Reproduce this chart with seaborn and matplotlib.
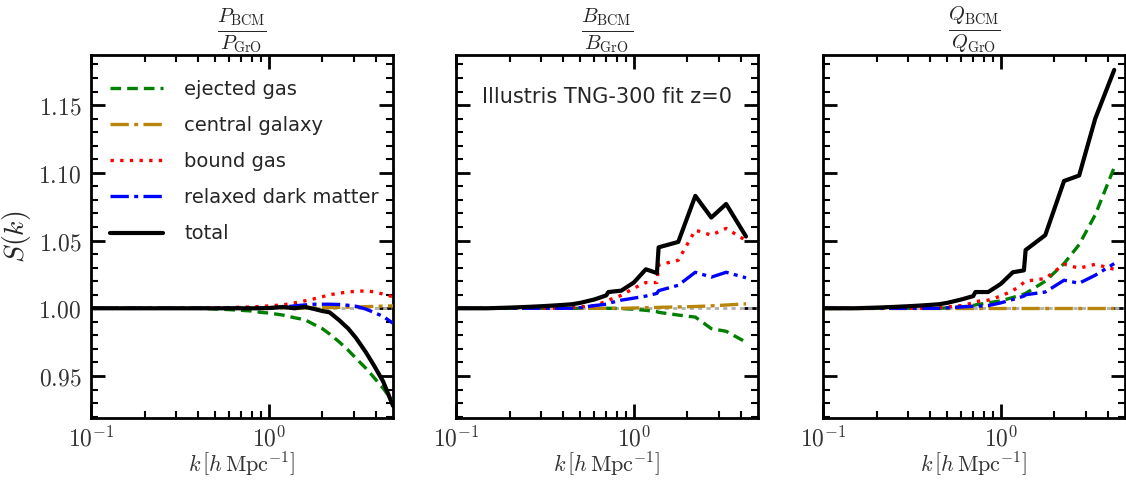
import numpy as np
import pandas as pd
import matplotlib
matplotlib.use("Agg")
import matplotlib.pyplot as plt
import seaborn as sns
from matplotlib.ticker import FixedLocator, FixedFormatter, NullFormatter

# ---------------- data ----------------
components = ["ejected gas", "central galaxy", "bound gas", "relaxed dark matter", "total"]
panel_titles = [r"$\frac{P_{\rm BCM}}{P_{\rm GrO}}$",
                r"$\frac{B_{\rm BCM}}{B_{\rm GrO}}$",
                r"$\frac{Q_{\rm BCM}}{Q_{\rm GrO}}$"]
annotation = "Illustris TNG-300 fit z=0"
ref_level = 1.0

k_P = [0.1, 0.15, 0.2, 0.3, 0.4, 0.5, 0.6, 0.7, 0.8, 0.9, 1.0, 1.2, 1.4, 1.6,
       1.8, 2.0, 2.2, 2.5, 2.8, 3.1, 3.5, 3.9, 4.4, 5.0]
P_ejected = [1.0, 1.0, 1.0, 1.0, 1.0, 0.9995, 0.999, 0.9985, 0.998, 0.997, 0.9965, 0.995,
             0.993, 0.9915, 0.988, 0.985, 0.981, 0.975, 0.969, 0.963, 0.956, 0.949, 0.941, 0.931]
P_central = [1.0, 1.0, 1.0, 1.0, 1.0, 1.0, 1.0, 1.0, 1.0, 1.0, 1.0, 1.0001, 1.0001, 1.0002,
             1.0003, 1.0004, 1.0005, 1.0007, 1.0008, 1.001, 1.0012, 1.0014, 1.0016, 1.0018]
P_bound = [1.0, 1.0, 1.0, 1.0, 1.0, 1.0003, 1.0005, 1.0008, 1.001, 1.0013, 1.0018, 1.0025,
           1.004, 1.0055, 1.007, 1.0085, 1.01, 1.0112, 1.012, 1.0126, 1.0128, 1.0122, 1.0105, 1.0085]
P_relaxed = [1.0, 1.0, 1.0, 1.0, 1.0, 1.0, 1.0, 1.0, 1.0, 1.0, 1.0, 1.0008, 1.0018, 1.0025,
             1.003, 1.003, 1.003, 1.0028, 1.0022, 1.0015, 0.9995, 0.997, 0.994, 0.989]
P_total = [1.0, 1.0, 1.0, 1.0, 1.0, 1.0, 1.0, 1.0, 1.0, 1.0, 1.0002, 1.001, 1.0, 1.001,
           0.9995, 0.998, 0.997, 0.991, 0.985, 0.978, 0.968, 0.958, 0.946, 0.928]

k_B = [0.1, 0.15, 0.2, 0.25, 0.3, 0.35, 0.4, 0.45, 0.5, 0.6, 0.7, 0.72, 0.85, 1.0,
       1.17, 1.35, 1.38, 1.78, 2.22, 2.73, 3.31, 4.28]
B_ejected = [1.0, 1.0, 1.0, 1.0, 1.0, 1.0, 1.0, 1.0, 1.0, 1.0, 1.0, 1.0, 0.9998, 0.9993,
             0.9985, 0.9975, 0.997, 0.995, 0.9935, 0.985, 0.983, 0.975]
B_central = [1.0, 1.0, 1.0, 1.0, 1.0, 1.0, 1.0, 1.0, 1.0, 1.0, 1.0, 1.0, 1.0, 1.0002,
             1.0004, 1.0006, 1.0007, 1.001, 1.0013, 1.0018, 1.0024, 1.0033]
B_bound = [1.0, 1.0, 1.0, 1.0, 1.0, 1.0, 1.0, 1.0005, 1.001, 1.002, 1.005, 1.006, 1.0095,
           1.0148, 1.019, 1.019, 1.032, 1.0355, 1.0577, 1.054, 1.059, 1.050]
B_relaxed = [1.0, 1.0, 1.0, 1.0, 1.0, 1.0, 1.0, 1.0, 1.0005, 1.002, 1.003, 1.0037, 1.006,
             1.0075, 1.009, 1.011, 1.013, 1.017, 1.0266, 1.023, 1.0266, 1.0225]
B_total = [1.0, 1.0, 1.0005, 1.001, 1.0015, 1.002, 1.0025, 1.003, 1.004, 1.0065, 1.0095,
           1.012, 1.013, 1.019, 1.0288, 1.026, 1.045, 1.049, 1.083, 1.067, 1.077, 1.053]

k_Q = [0.1, 0.15, 0.2, 0.25, 0.3, 0.35, 0.4, 0.45, 0.5, 0.6, 0.7, 0.72, 0.85, 1.0,
       1.17, 1.35, 1.38, 1.78, 2.27, 2.76, 3.4, 4.35]
Q_ejected = [1.0, 1.0, 1.0, 1.0, 1.0, 1.0, 1.0, 1.0, 1.0003, 1.001, 1.002, 1.0025, 1.004,
             1.0055, 1.008, 1.0105, 1.011, 1.020, 1.033, 1.047, 1.069, 1.104]
Q_central = [1.0, 1.0, 1.0, 1.0, 1.0, 1.0, 1.0, 1.0, 1.0, 1.0, 1.0, 1.0, 1.0, 1.0,
             1.0, 1.0, 1.0, 1.0, 1.0, 1.0, 1.0, 1.0]
Q_bound = [1.0, 1.0, 1.0, 1.0, 1.0, 1.0, 1.0, 1.0005, 1.001, 1.002, 1.004, 1.005, 1.006,
           1.009, 1.013, 1.019, 1.020, 1.022, 1.0325, 1.0296, 1.0325, 1.0288]
Q_relaxed = [1.0, 1.0, 1.0, 1.0, 1.0, 1.0, 1.0, 1.0, 1.0003, 1.001, 1.0015, 1.0015, 1.002,
             1.004, 1.0065, 1.009, 1.010, 1.012, 1.0207, 1.0185, 1.0244, 1.033]
Q_total = [1.0, 1.0, 1.0005, 1.001, 1.0015, 1.002, 1.0025, 1.003, 1.004, 1.0065, 1.009,
           1.012, 1.012, 1.018, 1.0266, 1.028, 1.043, 1.054, 1.094, 1.098, 1.14, 1.176]

x_ticks = [0.1, 1.0]
x_ticklabels = [r"$10^{-1}$", r"$10^{0}$"]
y_ticks = [0.95, 1.00, 1.05, 1.10, 1.15]
y_ticklabels = [r"$0.95$", r"$1.00$", r"$1.05$", r"$1.10$", r"$1.15$"]

panels = [
    (k_P, [P_ejected, P_central, P_bound, P_relaxed, P_total]),
    (k_B, [B_ejected, B_central, B_bound, B_relaxed, B_total]),
    (k_Q, [Q_ejected, Q_central, Q_bound, Q_relaxed, Q_total]),
]

rows = []
for pi, (kk, series) in enumerate(panels):
    for comp, vals in zip(components, series):
        for kv, sv in zip(kk, vals):
            rows.append({"panel": pi, "component": comp, "k": kv, "S": sv})
df = pd.DataFrame(rows)

# ---------------- style ----------------
colors = {"ejected gas": "green", "central galaxy": "#b8860b", "bound gas": "red",
          "relaxed dark matter": "blue", "total": "black"}
styles = {"ejected gas": (0, (3.2, 1.8)), "central galaxy": (0, (5.5, 1.6, 1.2, 1.6)),
          "bound gas": (0, (1, 1.9)), "relaxed dark matter": (0, (5.5, 1.6, 1.2, 1.6)),
          "total": "-"}
widths = {"ejected gas": 2.4, "central galaxy": 2.4, "bound gas": 2.4,
          "relaxed dark matter": 2.4, "total": 3.0}

sns.set_theme(style="white")
plt.rcParams["mathtext.fontset"] = "cm"
plt.rcParams["font.family"] = ["DejaVu Sans"]

fig = plt.figure(figsize=(11.26, 4.82), dpi=100)
W, H = 1126, 482
lefts = [91, 456, 823]
axw, bottom, top = 302, 418, 55

for pi in range(3):
    ax = fig.add_axes([lefts[pi] / W, 1 - bottom / H, axw / W, (bottom - top) / H])
    ax.axhline(ref_level, color="#b0b0b0", lw=2.0, ls=(0, (1.5, 1.5)), zorder=1)
    sub = df[df["panel"] == pi]
    for comp in components:
        d = sub[sub["component"] == comp]
        sns.lineplot(data=d, x="k", y="S", ax=ax, color=colors[comp], lw=widths[comp],
                     linestyle=styles[comp], label=comp, errorbar=None, sort=False,
                     legend=False, zorder=3)
    ax.set_xscale("log")
    ax.set_xlim(0.1, 5.0)
    ax.set_ylim(0.919, 1.187)
    ax.xaxis.set_major_locator(FixedLocator(x_ticks))
    ax.xaxis.set_major_formatter(FixedFormatter(x_ticklabels))
    ax.xaxis.set_minor_locator(FixedLocator([0.2, 0.3, 0.4, 0.5, 0.6, 0.7, 0.8, 0.9, 2, 3, 4]))
    ax.xaxis.set_minor_formatter(NullFormatter())
    ax.yaxis.set_major_locator(FixedLocator(y_ticks))
    ax.yaxis.set_minor_locator(FixedLocator(np.arange(0.92, 1.19, 0.01)))
    if pi == 0:
        ax.yaxis.set_major_formatter(FixedFormatter(y_ticklabels))
        ax.set_ylabel(r"$S(k)$", fontsize=20, labelpad=4)
    else:
        ax.yaxis.set_major_formatter(NullFormatter())
        ax.set_ylabel("")
    ax.set_xlabel(r"$k\,\left[h\,\mathrm{Mpc}^{-1}\right]$", fontsize=16, color="#333333",
                  labelpad=0)
    ax.tick_params(which="both", direction="in", top=True, right=True, bottom=True, left=True,
                   labelsize=17, labelcolor="#333333", color="black")
    ax.tick_params(which="major", length=10, width=2, pad=7)
    ax.tick_params(axis="x", which="major", pad=6)
    ax.tick_params(which="minor", length=5, width=1.5)
    for s in ax.spines.values():
        s.set_linewidth(2)
        s.set_color("black")
    ax.set_title(panel_titles[pi], fontsize=21, pad=5)
    if pi == 0:
        h, l = ax.get_legend_handles_labels()
        ax.legend(h, l, loc="upper left", frameon=False, fontsize=14, handlelength=2.7,
                  labelspacing=0.88, handletextpad=1.1, borderaxespad=0.6,
                  bbox_to_anchor=(0.0, 0.985))
    if pi == 1:
        ax.text(0.5, 0.884, annotation, transform=ax.transAxes, ha="center", va="center",
                fontsize=15)

fig.savefig("out.png", dpi=100)
